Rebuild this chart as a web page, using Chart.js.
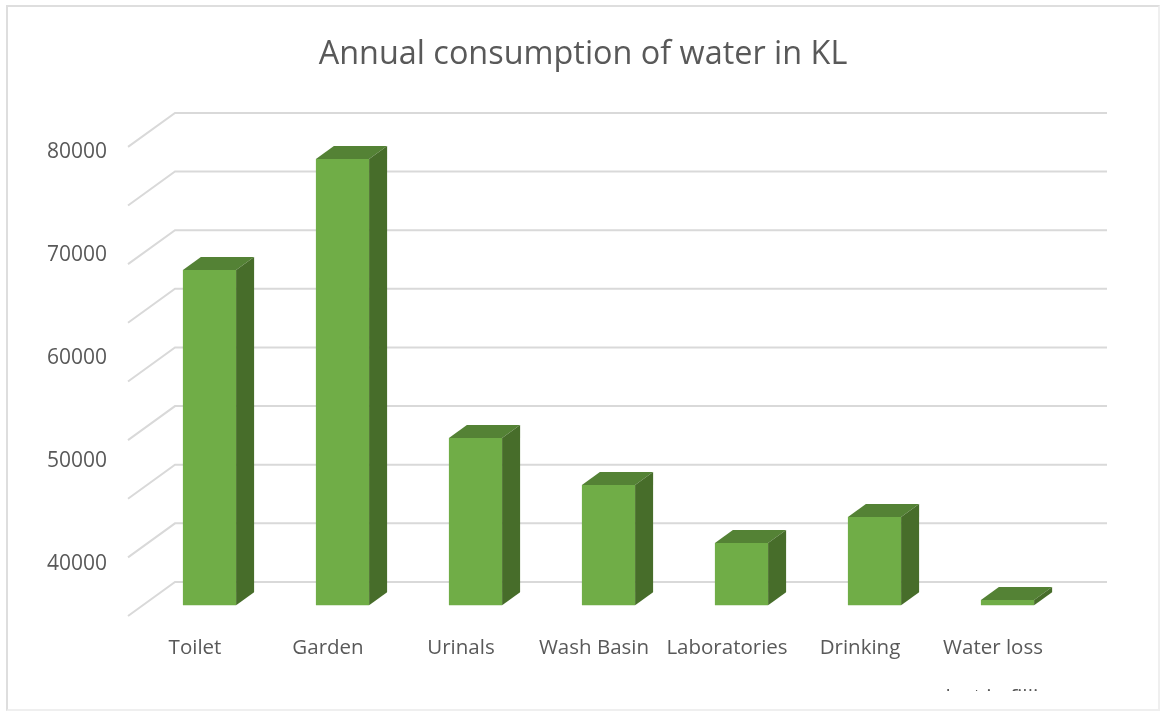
<!DOCTYPE html>
<html>
<head>
<meta charset="utf-8">
<title>Annual consumption of water in KL</title>
<script src="https://cdn.jsdelivr.net/npm/chart.js@4/dist/chart.umd.min.js"></script>
<style>
  body { margin: 0; background: #fff; }
  #wrap { position: relative; width: 1160px; height: 711px; overflow: hidden; }
  #frame { position: absolute; left: 6px; top: 5px; width: 1154px; height: 706px; box-sizing: border-box;
           border: 2px solid #dedede; border-right-color: #efefef; border-bottom-color: #efefef; }
  canvas { position: absolute; left: 0; top: 0; }
</style>
</head>
<body>
<div id="wrap">
  <div id="frame"></div>
  <canvas id="waterChart" width="1160" height="711"></canvas>
</div>
<script>
const categories = ['Toilet', 'Garden', 'Urinals', 'Wash Basin', 'Laboratories', 'Drinking', 'Water loss'];
const consumption = [68350, 79130, 52040, 47480, 41840, 44370, 36310];
const barBase = 35800;
const yTicks = [40000, 50000, 60000, 70000, 80000];
const gridValues = [0, 10000, 20000, 30000, 40000, 50000, 60000, 70000, 80000];
const cutOffLabel = 'lost in filling';

const textColor = '#595959';
const fontName = '"Open Sans", sans-serif';

// Excel style 3D look: floor/wall grid and the top + side of each bar
const box3d = {
    id: 'box3d',
    beforeDatasetsDraw(chart) {
        const { ctx, chartArea, scales } = chart;
        ctx.save();
        ctx.strokeStyle = '#d9d9d9';
        ctx.lineWidth = 2;
        gridValues.forEach(v => {
            const y = scales.gridY.getPixelForValue(v);
            ctx.beginPath();
            ctx.moveTo(chartArea.left - 15, y);
            ctx.lineTo(chartArea.left + 32, y - 34);
            ctx.lineTo(chartArea.right + 33, y - 34);
            ctx.stroke();
        });
        ctx.restore();
    },
    afterDatasetsDraw(chart) {
        const { ctx } = chart;
        const dx = 18, dy = -13;
        ctx.save();
        chart.getDatasetMeta(0).data.forEach(bar => {
            const left = bar.x - bar.width / 2;
            const right = bar.x + bar.width / 2;
            ctx.fillStyle = '#548235';
            ctx.beginPath();
            ctx.moveTo(left, bar.y);
            ctx.lineTo(left + dx, bar.y + dy);
            ctx.lineTo(right + dx, bar.y + dy);
            ctx.lineTo(right, bar.y);
            ctx.closePath();
            ctx.fill();
            ctx.fillStyle = '#476d2a';
            ctx.beginPath();
            ctx.moveTo(right, bar.y);
            ctx.lineTo(right + dx, bar.y + dy);
            ctx.lineTo(right + dx, bar.base + dy);
            ctx.lineTo(right, bar.base);
            ctx.closePath();
            ctx.fill();
        });
        ctx.restore();
    },
    afterDraw(chart) {
        // the source picture is cropped through this line of text
        const { ctx } = chart;
        ctx.save();
        ctx.beginPath();
        ctx.rect(900, 680, 200, 11);
        ctx.clip();
        ctx.fillStyle = textColor;
        ctx.font = '21px ' + fontName;
        ctx.textAlign = 'center';
        ctx.textBaseline = 'alphabetic';
        ctx.fillText(cutOffLabel, 1004, 705);
        ctx.restore();
    }
};

new Chart(document.getElementById('waterChart'), {
    type: 'bar',
    data: {
        labels: categories,
        datasets: [{
            label: 'Annual consumption of water in KL',
            data: consumption,
            base: barBase,
            backgroundColor: '#70ad47',
            categoryPercentage: 0.4,
            barPercentage: 1
        }]
    },
    plugins: [box3d],
    options: {
        responsive: false,
        animation: false,
        layout: { padding: { left: 6 } },
        scales: {
            x: {
                grid: { display: false },
                border: { display: false },
                afterFit(scale) { scale.height = 95; },
                ticks: {
                    color: textColor,
                    font: { family: fontName, size: 20.5 },
                    padding: 12,
                    labelOffset: -14.5,
                    maxRotation: 0,
                    autoSkip: false
                }
            },
            y: {
                min: 34750,
                max: 83600,
                grid: { display: false },
                border: { display: false },
                afterFit(scale) { scale.width = 137; },
                afterBuildTicks(scale) { scale.ticks = yTicks.map(v => ({ value: v })); },
                ticks: {
                    color: textColor,
                    font: { family: fontName, size: 21 },
                    padding: 28,
                    labelOffset: 2,
                    callback: v => String(v)
                }
            },
            gridY: {
                position: 'right',
                min: 0,
                max: 85800,
                grid: { display: false },
                border: { display: false },
                ticks: { display: false },
                afterFit(scale) { scale.width = 86; }
            }
        },
        plugins: {
            legend: { display: false },
            tooltip: { enabled: false },
            title: {
                display: true,
                text: 'Annual consumption of water in KL',
                color: textColor,
                font: { family: fontName, size: 32.4, weight: 'normal', lineHeight: 1.2 },
                padding: { top: 35, bottom: 39 }
            }
        }
    }
});
</script>
</body>
</html>
